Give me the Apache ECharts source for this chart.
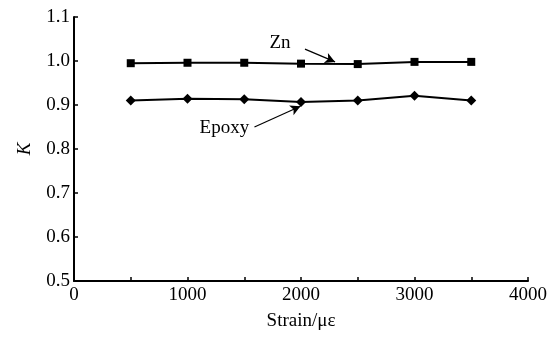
<!DOCTYPE html>
<html>
<head>
<meta charset="utf-8">
<script src="https://cdn.jsdelivr.net/npm/echarts@6/dist/echarts.min.js"></script>
<style>html,body{margin:0;padding:0;background:#fff}#c{width:550px;height:343px}</style>
</head>
<body>
<div id="c"></div>
<script>
const strain = [500, 1000, 1500, 2000, 2500, 3000, 3500];
const znK = [0.995, 0.996, 0.996, 0.994, 0.993, 0.998, 0.998];
const epoxyK = [0.910, 0.914, 0.913, 0.907, 0.910, 0.921, 0.910];
const xTicks = [0, 1000, 2000, 3000, 4000];
const yTicks = [0.5, 0.6, 0.7, 0.8, 0.9, 1.0, 1.1];

const font = '"Liberation Serif", "Times New Roman", serif';
const chart = echarts.init(document.getElementById('c'));
const zip = (xs, ys) => xs.map((x, i) => [x, ys[i]]);

chart.setOption({
  animation: false,
  backgroundColor: '#fff',
  grid: { left: 74, right: 20, top: 17, bottom: 62 },
  xAxis: {
    type: 'value', min: 0, max: 4000, interval: 500,
    name: 'Strain/με', nameLocation: 'middle', nameGap: 31,
    nameTextStyle: { fontFamily: font, fontSize: 19, color: '#000' },
    axisLine: { lineStyle: { color: '#000', width: 2 } },
    axisTick: { inside: true, length: 4, lineStyle: { color: '#000', width: 1.5 } },
    axisLabel: {
      fontFamily: font, fontSize: 19, color: '#000', margin: 5,
      formatter: v => xTicks.includes(v) ? String(v) : ''
    },
    splitLine: { show: false }
  },
  yAxis: {
    type: 'value', min: 0.5, max: 1.1, interval: 0.1,
    name: 'K', nameLocation: 'middle', nameGap: 40,
    nameTextStyle: { fontFamily: font, fontSize: 19, fontStyle: 'italic', color: '#000' },
    axisLine: { lineStyle: { color: '#000', width: 2 } },
    axisTick: { inside: true, length: 4, lineStyle: { color: '#000', width: 1.5 } },
    axisLabel: {
      fontFamily: font, fontSize: 19, color: '#000', margin: 4,
      formatter: v => { const t = yTicks.find(y => Math.abs(y - v) < 1e-6); return t !== undefined ? t.toFixed(1) : ''; }
    },
    splitLine: { show: false }
  },
  series: [
    {
      name: 'Zn', type: 'line', data: zip(strain, znK),
      symbol: 'rect', symbolSize: 8,
      lineStyle: { color: '#000', width: 2 },
      itemStyle: { color: '#000' },
      markLine: {
        silent: true, symbol: ['none', 'arrow'], symbolSize: [8, 10],
        lineStyle: { color: '#000', width: 1.2, type: 'solid' },
        label: { show: false },
        data: [[{ coord: [2035, 1.027] }, { coord: [2300, 0.998] }]]
      },
      markPoint: {
        silent: true, symbol: 'circle', symbolSize: 0,
        label: { show: true, formatter: 'Zn', fontFamily: font, fontSize: 19, color: '#000' },
        data: [{ coord: [1815, 1.042] }]
      }
    },
    {
      name: 'Epoxy', type: 'line', data: zip(strain, epoxyK),
      symbol: 'diamond', symbolSize: 10,
      lineStyle: { color: '#000', width: 2 },
      itemStyle: { color: '#000' },
      markLine: {
        silent: true, symbol: ['none', 'arrow'], symbolSize: [8, 10],
        lineStyle: { color: '#000', width: 1.2, type: 'solid' },
        label: { show: false },
        data: [[{ coord: [1590, 0.850] }, { coord: [1995, 0.897] }]]
      },
      markPoint: {
        silent: true, symbol: 'circle', symbolSize: 0,
        label: { show: true, formatter: 'Epoxy', fontFamily: font, fontSize: 19, color: '#000' },
        data: [{ coord: [1325, 0.848] }]
      }
    }
  ]
});
</script>
</body>
</html>
